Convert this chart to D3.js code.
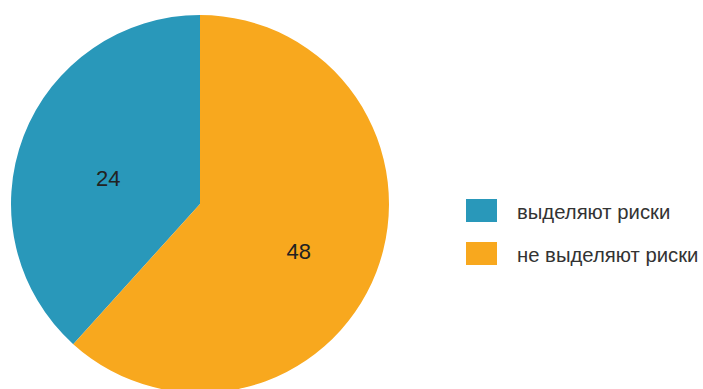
<!DOCTYPE html>
<html>
<head>
<meta charset="utf-8">
<script src="https://cdn.jsdelivr.net/npm/d3@7"></script>
<style>
  body { margin: 0; background: #fff; }
  svg { display: block; font-family: "Liberation Sans", Arial, sans-serif; }
</style>
</head>
<body>
<div id="vis"></div>
<script>
// data
const categories = ['выделяют риски', 'не выделяют риски'];
const labels = [24, 48];
// the drawn slices are not in 24:48 ratio; share of circle
const shares = [0.383, 0.617];
const colors = ['#2998ba', '#f8a81e'];

const width = 703;
const height = 389;
const cx = 200;
const cy = 204;
const radius = 189;

const svg = d3.select('#vis')
  .append('svg')
  .attr('width', width)
  .attr('height', height);

const color = d3.scaleOrdinal()
  .domain(categories)
  .range(colors);

const rows = categories.map((c, i) => ({name: c, label: labels[i], share: shares[i]}));

// blue sits left of 12 o'clock, orange goes clockwise from the top
const pie = d3.pie()
  .sort(null)
  .value((d) => d.share)
  .startAngle(-2 * Math.PI * shares[0])
  .endAngle(2 * Math.PI * (1 - shares[0]));

const arc = d3.arc().innerRadius(0).outerRadius(radius);
const labelArc = d3.arc().innerRadius(0).outerRadius(radius * 1.08);

const g = svg.append('g')
  .attr('transform', 'translate(' + cx + ',' + cy + ')');

g.selectAll('path')
  .data(pie(rows))
  .enter()
  .append('path')
  .attr('d', arc)
  .attr('fill', (d) => color(d.data.name));

// labels hang just below the centroid
g.selectAll('text')
  .data(pie(rows))
  .enter()
  .append('text')
  .attr('transform', (d) => 'translate(' + labelArc.centroid(d) + ')')
  .attr('text-anchor', 'middle')
  .attr('dx', 3.5)
  .attr('dy', '0.85em')
  .style('font-size', '22px')
  .style('fill', '#222')
  .text((d) => d.data.label);

// legend
const legend = svg.append('g')
  .attr('transform', 'translate(466,199)');

const item = legend.selectAll('g')
  .data(categories)
  .enter()
  .append('g')
  .attr('transform', (d, i) => 'translate(0,' + i * 43 + ')');

item.append('rect')
  .attr('width', 31)
  .attr('height', 23)
  .attr('fill', (d) => color(d));

item.append('text')
  .attr('x', 51)
  .attr('y', 20)
  .style('font-size', '20.3px')
  .style('fill', '#333')
  .text((d) => d);
</script>
</body>
</html>
